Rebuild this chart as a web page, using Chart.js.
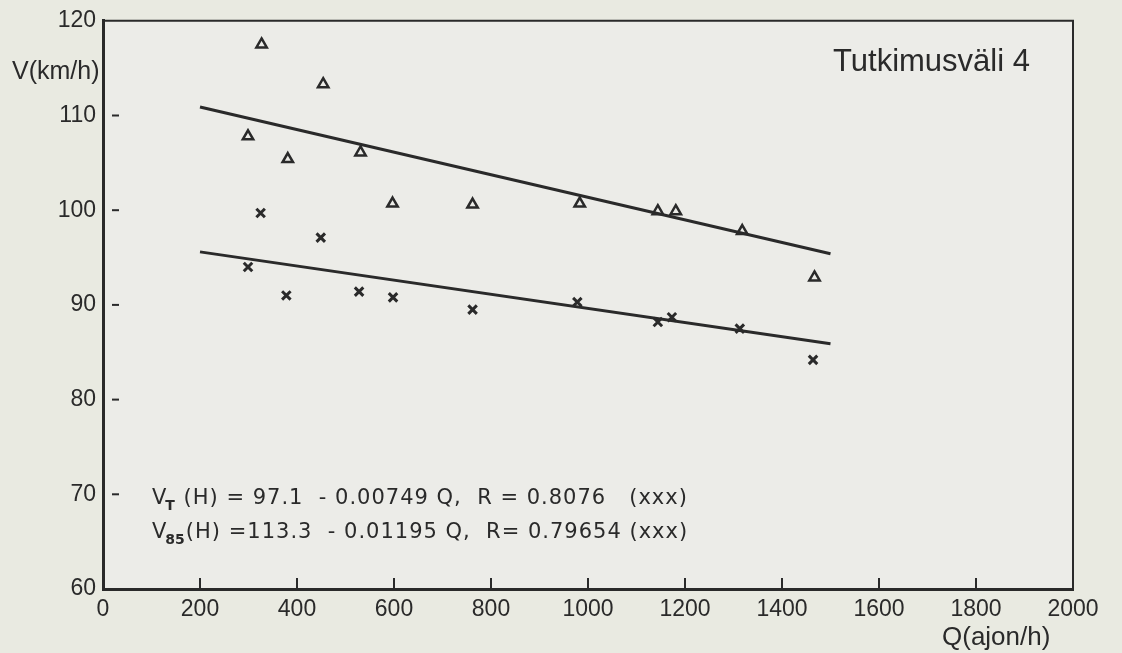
<!DOCTYPE html>
<html>
<head>
<meta charset="utf-8">
<script src="https://cdn.jsdelivr.net/npm/chart.js@4.4.1/dist/chart.umd.min.js"></script>
<style>
  html, body { margin: 0; padding: 0; background: #e9eae1; }
  #wrap { width: 1122px; height: 653px; position: relative; }
</style>
</head>
<body>
<div id="wrap"><canvas id="speedChart"></canvas></div>
<script>
// axis ticks
const xTicks = [0, 200, 400, 600, 800, 1000, 1200, 1400, 1600, 1800, 2000];
const yTicks = [60, 70, 80, 90, 100, 110, 120];

// V85 points (triangles)
const v85Q = [327, 454, 299, 381, 531, 597, 762, 983, 1144, 1181, 1318, 1467];
const v85V = [117.5, 113.3, 107.8, 105.4, 106.1, 100.7, 100.6, 100.7, 99.9, 99.9, 97.8, 92.9];

// VT points (crosses)
const vtQ = [325, 449, 299, 378, 528, 598, 762, 978, 1144, 1173, 1313, 1464];
const vtV = [99.7, 97.1, 94.0, 91.0, 91.4, 90.8, 89.5, 90.3, 88.2, 88.7, 87.5, 84.2];

// regression line end points
const v85LineQ = [200, 1500];
const v85LineV = [110.9, 95.4];
const vtLineQ = [200, 1500];
const vtLineV = [95.6, 85.9];

const ink = '#2a2a2a';
const fontFam = '"Liberation Sans", Arial, sans-serif';
const eqFam = '"DejaVu Sans", sans-serif';

function zip(xs, ys) {
    return xs.map((x, i) => ({ x: x, y: ys[i] }));
}

//Frame, tick marks and annotations
const paperPlugin = {
    id: 'paper',
    beforeDraw(chart) {
        const ctx = chart.ctx;
        ctx.save();
        ctx.fillStyle = '#e9eae1';
        ctx.fillRect(0, 0, chart.width, chart.height);
        const a = chart.chartArea;
        ctx.fillStyle = '#ecece8';
        ctx.fillRect(a.left, a.top, a.right - a.left, a.bottom - a.top);
        ctx.restore();
    },
    afterDraw(chart) {
        const ctx = chart.ctx;
        const a = chart.chartArea;
        const xs = chart.scales.x;
        const ys = chart.scales.y;
        ctx.save();
        ctx.strokeStyle = ink;

        // top and right border
        ctx.lineWidth = 2;
        ctx.beginPath();
        ctx.moveTo(a.left, a.top);
        ctx.lineTo(a.right, a.top);
        ctx.lineTo(a.right, a.bottom);
        ctx.stroke();

        // inner ticks
        ctx.lineWidth = 2;
        xTicks.slice(1, -1).forEach(v => {
            const px = xs.getPixelForValue(v);
            ctx.beginPath();
            ctx.moveTo(px, a.bottom);
            ctx.lineTo(px, a.bottom - 11);
            ctx.stroke();
        });
        yTicks.slice(1, -1).forEach(v => {
            const py = ys.getPixelForValue(v);
            ctx.beginPath();
            ctx.moveTo(a.left + 9, py);
            ctx.lineTo(a.left + 16, py);
            ctx.stroke();
        });

        ctx.fillStyle = ink;
        ctx.textBaseline = 'alphabetic';
        ctx.textAlign = 'left';

        // title
        ctx.font = '31px ' + fontFam;
        ctx.fillText('Tutkimusväli 4', 833, 71);

        // axis titles
        ctx.font = '25px ' + fontFam;
        ctx.fillText('V(km/h)', 12, 79);
        ctx.font = '26px ' + fontFam;
        ctx.fillText('Q(ajon/h)', 942, 645);

        // equations
        drawEq(ctx, 152, 504, 'T', ' (H) = 97.1  - 0.00749 Q,  R = 0.8076   (xxx)');
        drawEq(ctx, 152, 538, '85', '(H) =113.3  - 0.01195 Q,  R= 0.79654 (xxx)');
        ctx.restore();
    }
};

function drawEq(ctx, x, y, sub, rest) {
    ctx.letterSpacing = '0px';
    ctx.font = '21px ' + eqFam;
    ctx.fillText('V', x, y);
    let w = ctx.measureText('V').width;
    ctx.font = 'bold 14px ' + eqFam;
    ctx.fillText(sub, x + w - 1, y + 6);
    w += ctx.measureText(sub).width;
    ctx.font = '21px ' + eqFam;
    ctx.letterSpacing = '1px';
    ctx.fillText(rest, x + w, y);
    ctx.letterSpacing = '0px';
}

const chart = new Chart(document.getElementById('speedChart'), {
    type: 'scatter',
    data: {
        datasets: [
            {
                label: 'V85',
                data: zip(v85Q, v85V),
                pointStyle: 'triangle',
                radius: 6,
                borderWidth: 2.5,
                borderColor: ink,
                backgroundColor: 'rgba(0,0,0,0)'
            },
            {
                label: 'VT',
                data: zip(vtQ, vtV),
                pointStyle: 'crossRot',
                radius: 6,
                borderWidth: 3,
                borderColor: ink,
                backgroundColor: ink
            },
            {
                type: 'line',
                label: 'V85(H)',
                data: zip(v85LineQ, v85LineV),
                borderColor: ink,
                borderWidth: 3,
                pointRadius: 0,
                fill: false
            },
            {
                type: 'line',
                label: 'VT(H)',
                data: zip(vtLineQ, vtLineV),
                borderColor: ink,
                borderWidth: 3,
                pointRadius: 0,
                fill: false
            }
        ]
    },
    options: {
        responsive: true,
        maintainAspectRatio: false,
        animation: false,
        layout: { padding: { top: 20, right: 49, left: 0, bottom: 0 } },
        plugins: {
            legend: { display: false },
            tooltip: { enabled: false }
        },
        scales: {
            x: {
                type: 'linear',
                min: 0,
                max: 2000,
                afterBuildTicks: s => { s.ticks = xTicks.map(v => ({ value: v })); },
                afterFit: s => { s.height = 64; },
                grid: { display: false, drawTicks: false },
                border: { display: true, color: ink, width: 3 },
                ticks: {
                    padding: 7,
                    color: ink,
                    font: { family: fontFam, size: 23 },
                    maxRotation: 0,
                    autoSkip: false,
                    callback: v => String(v)
                }
            },
            y: {
                type: 'linear',
                min: 60,
                max: 120,
                afterBuildTicks: s => { s.ticks = yTicks.map(v => ({ value: v })); },
                afterFit: s => { s.width = 103; },
                grid: { display: false, drawTicks: false },
                border: { display: true, color: ink, width: 3 },
                ticks: {
                    padding: 7,
                    color: ink,
                    font: { family: fontFam, size: 23 },
                    autoSkip: false,
                    callback: v => String(v)
                }
            }
        }
    },
    plugins: [paperPlugin]
});
</script>
</body>
</html>
